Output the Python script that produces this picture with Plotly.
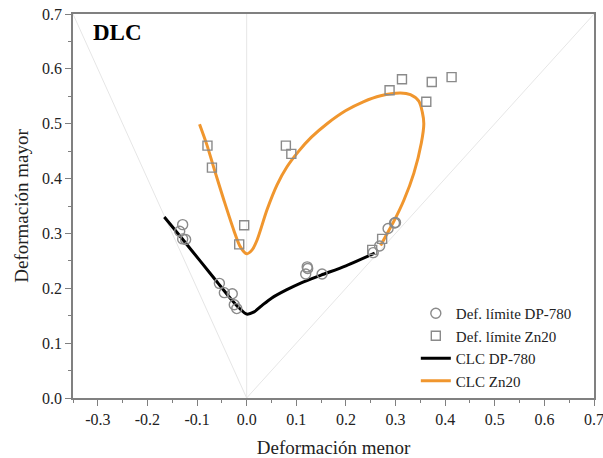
import plotly.graph_objects as go

# ---- data ----
dp_x = [-0.135, -0.129, -0.129, -0.123, -0.055, -0.045, -0.029, -0.025, -0.020,
        0.119, 0.122, 0.123, 0.152, 0.255, 0.268, 0.285, 0.298, 0.300]
dp_y = [0.304, 0.316, 0.290, 0.289, 0.209, 0.192, 0.190, 0.170, 0.163,
        0.226, 0.239, 0.236, 0.226, 0.265, 0.277, 0.309, 0.319, 0.320]

zn_x = [-0.079, -0.070, -0.015, -0.005, 0.079, 0.090, 0.253, 0.273,
        0.288, 0.313, 0.362, 0.373, 0.413]
zn_y = [0.460, 0.420, 0.280, 0.315, 0.460, 0.445, 0.270, 0.290,
        0.561, 0.581, 0.540, 0.576, 0.585]

clc_dp_x = [-0.166, -0.127, -0.093, -0.060, -0.033, -0.015, 0.000, 0.015, 0.030,
            0.050, 0.080, 0.110, 0.150, 0.200, 0.258]
clc_dp_y = [0.330, 0.287, 0.249, 0.212, 0.182, 0.164, 0.153, 0.157, 0.168,
            0.182, 0.197, 0.210, 0.224, 0.241, 0.264]

clc_zn_x = [-0.095, -0.080, -0.066, -0.046, -0.026, -0.013, 0.000, 0.011, 0.021,
            0.041, 0.061, 0.081, 0.105, 0.130, 0.162, 0.200, 0.235, 0.270, 0.310,
            0.330, 0.347, 0.354, 0.357, 0.352, 0.337, 0.317, 0.296, 0.282, 0.270]
clc_zn_y = [0.499, 0.461, 0.419, 0.361, 0.306, 0.276, 0.263, 0.270, 0.288,
            0.343, 0.388, 0.421, 0.450, 0.475, 0.500, 0.524, 0.540, 0.551, 0.556,
            0.553, 0.541, 0.521, 0.500, 0.465, 0.410, 0.361, 0.321, 0.298, 0.278]

# reference strain-path guide lines
uni_x = [-0.35, 0.0]
uni_y = [0.70, 0.0]
ps_x = [0.0, 0.0]
ps_y = [0.0, 0.70]
bi_x = [0.0, 0.70]
bi_y = [0.0, 0.70]

x_ticks = [-0.3, -0.2, -0.1, 0.0, 0.1, 0.2, 0.3, 0.4, 0.5, 0.6, 0.7]
y_ticks = [0.0, 0.1, 0.2, 0.3, 0.4, 0.5, 0.6, 0.7]

FONT = "Liberation Serif, Times New Roman, serif"
GUIDE = "#e6e6e6"
MARK = "#8a8a8a"

fig = go.Figure()
for gx, gy in [(uni_x, uni_y), (ps_x, ps_y), (bi_x, bi_y)]:
    fig.add_trace(go.Scatter(x=gx, y=gy, mode="lines", line=dict(color=GUIDE, width=1),
                             showlegend=False, hoverinfo="skip"))

fig.add_trace(go.Scatter(x=clc_dp_x, y=clc_dp_y, mode="lines", name="CLC DP-780",
                         line=dict(color="black", width=3, shape="spline", smoothing=0.8),
                         legendrank=3))
fig.add_trace(go.Scatter(x=clc_zn_x, y=clc_zn_y, mode="lines", name="CLC Zn20",
                         line=dict(color="#f0962e", width=3, shape="spline", smoothing=0.8),
                         legendrank=4))
fig.add_trace(go.Scatter(x=dp_x, y=dp_y, mode="markers", name="Def. límite DP-780",
                         marker=dict(symbol="circle-open", size=10, color=MARK,
                                     line=dict(width=1.4, color=MARK)),
                         legendrank=1))
fig.add_trace(go.Scatter(x=zn_x, y=zn_y, mode="markers", name="Def. límite Zn20",
                         marker=dict(symbol="square-open", size=9, color=MARK,
                                     line=dict(width=1.4, color=MARK)),
                         legendrank=2))

axis_common = dict(
    showgrid=False, zeroline=False, showline=True, linecolor="#808080", linewidth=1.5,
    mirror=True, ticks="outside", ticklen=6, tickcolor="#808080", tickwidth=1,
    tickfont=dict(family=FONT, size=16, color="#222"), automargin=False,
    ticklabeloverflow="allow",
    minor=dict(ticks="outside", ticklen=3, tickcolor="#808080", dtick=0.05),
)

fig.update_xaxes(range=[-0.35, 0.7], tickvals=x_ticks,
                 ticktext=[f"{v:.1f}" for v in x_ticks],
                 title=dict(text="Deformación menor", font=dict(family=FONT, size=19, color="#222"),
                            standoff=16),
                 **axis_common)
fig.update_yaxes(range=[0.0, 0.7], tickvals=y_ticks,
                 ticktext=[f"{v:.1f}" for v in y_ticks],
                 title=dict(text="Deformación mayor", font=dict(family=FONT, size=19, color="#222"),
                            standoff=8),
                 **axis_common)

fig.add_annotation(text="<b>DLC</b>", xref="paper", yref="paper", x=0.035, y=0.99,
                   xanchor="left", yanchor="top", showarrow=False,
                   font=dict(family=FONT, size=23, color="black"))

fig.update_layout(
    width=603, height=458,
    margin=dict(l=73, r=9, t=14, b=60),
    paper_bgcolor="white", plot_bgcolor="white",
    font=dict(family=FONT),
    legend=dict(x=0.658, y=0.263, xanchor="left", yanchor="top",
                bgcolor="rgba(0,0,0,0)", font=dict(family=FONT, size=15, color="#222"),
                tracegroupgap=0, itemwidth=30),
)

fig.write_html("out.html")
